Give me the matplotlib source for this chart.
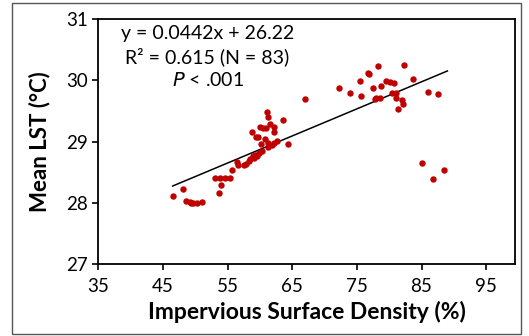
import numpy as np
import matplotlib.pyplot as plt
from matplotlib.patches import Rectangle

plt.rcParams['font.family'] = ['Lato', 'DejaVu Sans']

# impervious surface density (%) and mean LST (C)
isd = [46.6, 48.1, 48.5, 49.1, 49.6, 50.3, 51.0, 49.3,
       53.6, 53.0, 53.8, 54.6, 55.3, 54.0, 55.6, 56.6, 56.5, 57.5, 57.8,
       58.7, 58.5, 58.9, 59.2, 59.5, 59.7, 59.4, 60.0, 60.5, 60.9, 61.1, 61.2,
       60.1, 60.8, 61.3, 61.3, 61.6, 62.1, 62.1, 62.2, 62.6, 63.6, 64.4, 59.9,
       60.3, 61.8, 59.0, 58.3,
       67.0, 72.2, 74.0, 75.7, 75.5, 76.9, 78.2, 77.5, 77.9, 78.7, 78.6,
       79.5, 80.1, 80.7, 81.1, 81.0, 81.9, 82.2, 81.4, 82.3, 83.7, 86.0, 87.6,
       76.7, 77.8, 80.4,
       85.0, 86.8, 88.5]
lst = [28.11, 28.22, 28.03, 28.02, 27.99, 27.99, 28.02, 28.00,
       28.16, 28.40, 28.40, 28.40, 28.40, 28.29, 28.54, 28.62, 28.66, 28.62, 28.64,
       29.16, 28.71, 28.76, 28.78, 28.76, 29.07, 29.08, 29.24, 29.23, 29.22, 29.48, 29.40,
       28.96, 29.04, 28.97, 28.92, 29.28, 29.24, 29.16, 28.98, 29.01, 29.35, 28.96, 28.82,
       28.84, 28.95, 28.73, 28.68,
       29.70, 29.88, 29.79, 29.75, 29.99, 30.10, 30.24, 29.87, 29.72, 29.91, 29.71,
       29.99, 29.97, 29.95, 29.80, 29.72, 29.68, 29.61, 29.53, 30.25, 30.02, 29.81, 29.77,
       30.12, 29.70, 29.80,
       28.65, 28.39, 28.54]

# fitted line as reported
slope, intercept = 0.0442, 26.22
fit_x = [46.5, 89.0]

x_ticks = [35, 45, 55, 65, 75, 85, 95]
y_ticks = [27, 28, 29, 30, 31]

fig = plt.figure(figsize=(5.29, 3.36), dpi=100)
ax = fig.add_axes([0.186, 0.214, 0.788, 0.729])

ax.plot(isd, lst, 'o', color='#C00000', markersize=4.6, markeredgewidth=0, zorder=3)
fx = np.array(fit_x)
ax.plot(fx, slope * fx + intercept, color='black', lw=1.1, zorder=2)

ax.set_xlim(35, 99.5)
ax.set_ylim(27, 31)
ax.set_xticks(x_ticks)
ax.set_yticks(y_ticks)
ax.tick_params(direction='out', length=4, width=1.2, labelsize=13.5, colors='black')
ax.tick_params(axis='x', pad=6)
for s in ax.spines.values():
    s.set_linewidth(1.3)

ax.set_xlabel('Impervious Surface Density (%)', fontsize=16.5, fontweight='bold', labelpad=4)
ax.set_ylabel('Mean LST (\u00b0C)', fontsize=16, fontweight='bold', labelpad=11)

ax.text(0.262, 0.94, 'y = 0.0442x + 26.22', transform=ax.transAxes,
        ha='center', va='center', fontsize=14)
ax.text(0.262, 0.845, 'R\u00b2 = 0.615 (N = 83)', transform=ax.transAxes,
        ha='center', va='center', fontsize=14)
ax.text(0.262, 0.75, '$\\it{P}$ < .001', transform=ax.transAxes,
        ha='center', va='center', fontsize=14)

# outer frame round the whole picture
fig.patches.append(Rectangle((0.023, 0.006), 0.962, 0.985, transform=fig.transFigure,
                             fill=False, edgecolor='#555555', lw=1.0))

fig.savefig('out.png', dpi=100)
